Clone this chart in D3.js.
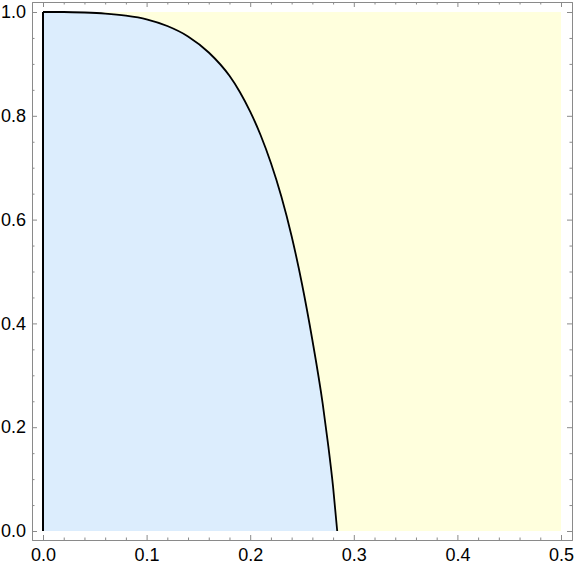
<!DOCTYPE html>
<html><head><meta charset="utf-8">
<script src="https://cdn.jsdelivr.net/npm/d3@7"></script>
<style>body{margin:0;background:#fff}</style>
</head><body><svg id="c" width="576" height="569"></svg>
<script>
// boundary curve
const curveX = [0, 0.02, 0.04, 0.06, 0.08, 0.10, 0.12, 0.14, 0.16, 0.18, 0.19, 0.20, 0.21, 0.22, 0.23, 0.24, 0.25, 0.26, 0.27, 0.275, 0.28, 0.284];
const curveY = [1, 1.0, 0.999, 0.997, 0.993, 0.986, 0.973, 0.953, 0.922, 0.877, 0.846, 0.808, 0.763, 0.709, 0.645, 0.568, 0.476, 0.368, 0.245, 0.170, 0.085, 0];
const xRegion = [0, 0.5];
const yRegion = [0, 1];
const xMajorTicks = [0, 0.1, 0.2, 0.3, 0.4, 0.5];
const yMajorTicks = [0, 0.2, 0.4, 0.6, 0.8, 1.0];
const xMinorTicks = [0.02,0.04,0.06,0.08,0.12,0.14,0.16,0.18,0.22,0.24,0.26,0.28,0.32,0.34,0.36,0.38,0.42,0.44,0.46,0.48];
const yMinorTicks = [0.05,0.1,0.15,0.25,0.3,0.35,0.45,0.5,0.55,0.65,0.7,0.75,0.85,0.9,0.95];

const blueFill = "#dcedfd";
const yellowFill = "#ffffdd";
const frameColor = "#8a8a8a";

const svg = d3.select("#c");
const x = d3.scaleLinear().domain([0, 0.5]).range([43, 561]);
const y = d3.scaleLinear().domain([0, 1]).range([531, 12]);
const fL = 32, fR = 572, fT = 2, fB = 540;
const xa = x.copy().domain([x.invert(fL), x.invert(fR)]).range([fL, fR]);
const ya = y.copy().domain([y.invert(fB), y.invert(fT)]).range([fB, fT]);

const pts = curveX.map((v, i) => ({x: v, y: curveY[i]}));

// yellow background region
svg.append("rect")
  .attr("x", x(xRegion[0])).attr("y", y(yRegion[1]))
  .attr("width", x(xRegion[1]) - x(xRegion[0]))
  .attr("height", y(yRegion[0]) - y(yRegion[1]))
  .attr("fill", yellowFill);

// blue region under curve
svg.append("path").datum(pts)
  .attr("fill", blueFill)
  .attr("d", d3.area().x(d => x(d.x)).y0(y(0)).y1(d => y(d.y)).curve(d3.curveMonotoneX));

// boundary lines
svg.append("line")
  .attr("x1", x(0)).attr("x2", x(0)).attr("y1", y(0)).attr("y2", y(1))
  .attr("stroke", "#000").attr("stroke-width", 2);
svg.append("path").datum(pts)
  .attr("fill", "none").attr("stroke", "#000").attr("stroke-width", 1.8)
  .attr("d", d3.line().x(d => x(d.x)).y(d => y(d.y)).curve(d3.curveMonotoneX));

function styleAxis(g) {
  g.selectAll("path,line").attr("stroke", frameColor).attr("stroke-width", 1);
  g.selectAll("text").attr("fill", "#000")
    .style("font-family", "'Liberation Sans', Arial, sans-serif").style("font-size", "18px");
}
const fmt = d3.format(".1f");

// bottom
svg.append("g").attr("transform", `translate(0,${fB})`)
  .call(d3.axisBottom(xa).tickValues(xMajorTicks).tickFormat(fmt).tickSizeInner(-5).tickSizeOuter(0).tickPadding(8)).call(styleAxis);
svg.append("g").attr("transform", `translate(0,${fB})`)
  .call(d3.axisBottom(xa).tickValues(xMinorTicks).tickFormat("").tickSizeInner(-2.5).tickSizeOuter(0)).call(styleAxis);
// top
svg.append("g").attr("transform", `translate(0,${fT})`)
  .call(d3.axisTop(xa).tickValues(xMajorTicks).tickFormat("").tickSizeInner(-5).tickSizeOuter(0)).call(styleAxis);
svg.append("g").attr("transform", `translate(0,${fT})`)
  .call(d3.axisTop(xa).tickValues(xMinorTicks).tickFormat("").tickSizeInner(-2.5).tickSizeOuter(0)).call(styleAxis);
// left
svg.append("g").attr("transform", `translate(${fL},0)`)
  .call(d3.axisLeft(ya).tickValues(yMajorTicks).tickFormat(fmt).tickSizeInner(-5).tickSizeOuter(0).tickPadding(6)).call(styleAxis);
svg.append("g").attr("transform", `translate(${fL},0)`)
  .call(d3.axisLeft(ya).tickValues(yMinorTicks).tickFormat("").tickSizeInner(-2.5).tickSizeOuter(0)).call(styleAxis);
// right
svg.append("g").attr("transform", `translate(${fR},0)`)
  .call(d3.axisRight(ya).tickValues(yMajorTicks).tickFormat("").tickSizeInner(-5).tickSizeOuter(0)).call(styleAxis);
svg.append("g").attr("transform", `translate(${fR},0)`)
  .call(d3.axisRight(ya).tickValues(yMinorTicks).tickFormat("").tickSizeInner(-2.5).tickSizeOuter(0)).call(styleAxis);
</script>
</body></html>
